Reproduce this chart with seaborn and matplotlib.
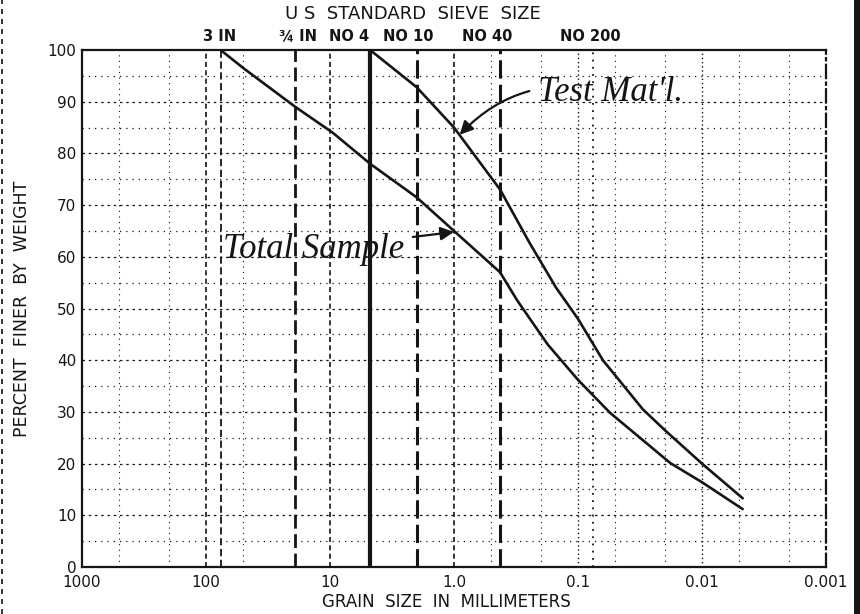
import pandas as pd
import seaborn as sns
import matplotlib.pyplot as plt
from matplotlib.lines import Line2D
from matplotlib.transforms import blended_transform_factory

# gradation of the total sample (grain size in mm, percent finer)
total_mm = [76.2, 50.0, 19.05, 9.5, 4.75, 2.0, 1.0, 0.425, 0.31, 0.175, 0.1, 0.055, 0.018, 0.01, 0.0047]
total_pct = [100, 96.5, 89, 84, 78, 71.5, 65, 57, 51.6, 43, 36.2, 29.8, 20.1, 16.4, 11.2]

# gradation of the test material (minus No 4)
test_mm = [4.75, 2.0, 1.0, 0.425, 0.25, 0.15, 0.1, 0.063, 0.03, 0.02, 0.01, 0.0047]
test_pct = [100, 92.8, 85, 73, 63, 54, 48, 40, 30.5, 26.5, 20, 13.3]

# US standard sieves
sieve_names = ["3 IN", "¾ IN", "NO 4", "NO 10", "NO 40", "NO 200"]
sieve_mm = [76.2, 19.05, 4.75, 2.0, 0.425, 0.075]
sieve_label_mm = [77, 18, 7.0, 2.35, 0.54, 0.08]

x_ticks = [1000, 100, 10, 1, 0.1, 0.01, 0.001]
x_tick_labels = ["1000", "100", "10", "1.0", "0.1", "0.01", "0.001"]
y_ticks = list(range(0, 101, 10))

INK = "#151515"

sieve_styles = {
    "3 IN": dict(ls=(0, (4, 2)), lw=1.3),
    "¾ IN": dict(ls=(0, (5, 2)), lw=2.0),
    "NO 4": dict(ls="-", lw=3.0),
    "NO 10": dict(ls=(0, (6, 2)), lw=2.2),
    "NO 40": dict(ls=(0, (6, 2)), lw=2.2),
    "NO 200": dict(ls=(0, (1, 3)), lw=1.3),
}


def build_frame():
    a = pd.DataFrame({"mm": total_mm, "pct": total_pct, "curve": "Total Sample"})
    b = pd.DataFrame({"mm": test_mm, "pct": test_pct, "curve": "Test Mat'l"})
    return pd.concat([a, b], ignore_index=True)


def draw_grid(ax):
    for p in range(5, 100, 5):
        ls = (0, (2, 3)) if p % 10 == 0 else (0, (1, 4))
        ax.axhline(p, color=INK, lw=0.9, ls=ls, zorder=1)
    for d in [1000, 100, 10, 1, 0.1, 0.01]:
        for m in (d / 2, d / 5):
            if any(abs(m - s) / s < 0.1 for s in sieve_mm):
                continue
            ax.axvline(m, color=INK, lw=0.8, ls=(0, (1, 4)), zorder=1)
    for d in [100, 10, 1]:
        ax.axvline(d, color=INK, lw=1.2, ls=(0, (3, 2)), zorder=1)
    for d in [0.1, 0.01]:
        ax.axvline(d, color=INK, lw=1.0, ls=(0, (1, 2)), zorder=1)
    for name, s in zip(sieve_names, sieve_mm):
        ax.axvline(s, color=INK, zorder=2, **sieve_styles[name])


def main():
    sns.set_theme(style="white")
    plt.rcParams["font.family"] = ["DejaVu Sans"]
    df = build_frame()

    fig = plt.figure(figsize=(8.6, 6.14), dpi=100)
    ax = fig.add_axes([0.0953, 0.0765, 0.8652, 0.8421])
    ax.set_xscale("log")
    draw_grid(ax)

    sns.lineplot(data=df, x="mm", y="pct", hue="curve", units="curve", estimator=None,
                 palette=[INK, INK], lw=1.9, legend=False, ax=ax, zorder=5)

    ax.set_xlim(1000, 0.001)
    ax.set_ylim(0, 100)
    ax.set_xticks(x_ticks)
    ax.set_xticklabels(x_tick_labels)
    ax.minorticks_off()
    ax.set_yticks(y_ticks)
    ax.tick_params(axis="both", length=0, labelsize=11, colors=INK)
    ax.tick_params(axis="x", pad=6)
    ax.tick_params(axis="y", pad=4)
    for side, sp in ax.spines.items():
        sp.set_color(INK)
        sp.set_linewidth(1.6)
    ax.spines["right"].set_linestyle((0, (6, 2, 1, 2)))

    ax.set_xlabel("GRAIN  SIZE  IN  MILLIMETERS", fontsize=12, color=INK)
    ax.xaxis.label.set_va("center")
    ax.xaxis.set_label_coords(0.49, -0.068)
    ax.set_ylabel("PERCENT  FINER  BY  WEIGHT", fontsize=12.5, color=INK, labelpad=12)

    tr = blended_transform_factory(ax.transData, ax.transAxes)
    for name, lx in zip(sieve_names, sieve_label_mm):
        ax.text(lx, 1.012, name, transform=tr, ha="center", va="bottom",
                fontsize=10.5, color=INK, fontweight="bold")
    ax.text(0.445, 1.052, "U S  STANDARD  SIEVE  SIZE", transform=ax.transAxes,
            ha="center", va="bottom", fontsize=13, color=INK)

    hand = dict(family="Liberation Serif", style="italic", color=INK)
    ax.annotate("Test Mat'l.", xy=(0.9, 83.6), xytext=(0.21, 91.7), ha="left", va="center",
                fontsize=25,
                arrowprops=dict(arrowstyle="-|>", color=INK, lw=1.6, mutation_scale=20,
                                connectionstyle="arc3,rad=0.3", shrinkA=4, shrinkB=0),
                zorder=6, **hand)
    ax.annotate("Total Sample", xy=(1.0, 64.8), xytext=(73, 61.5), ha="left", va="center",
                fontsize=25,
                arrowprops=dict(arrowstyle="-|>", color=INK, lw=1.6, mutation_scale=20,
                                shrinkA=4, shrinkB=0),
                zorder=6, **hand)

    fig.add_artist(Line2D([0.9965, 0.9965], [0, 1], transform=fig.transFigure, lw=5, color=INK))
    fig.add_artist(Line2D([0.002, 0.002], [0, 1], transform=fig.transFigure, lw=1.2,
                          color=INK, ls=(0, (3, 3))))

    fig.savefig("out.png", dpi=100, facecolor="white")
    plt.close(fig)


if __name__ == "__main__":
    main()
